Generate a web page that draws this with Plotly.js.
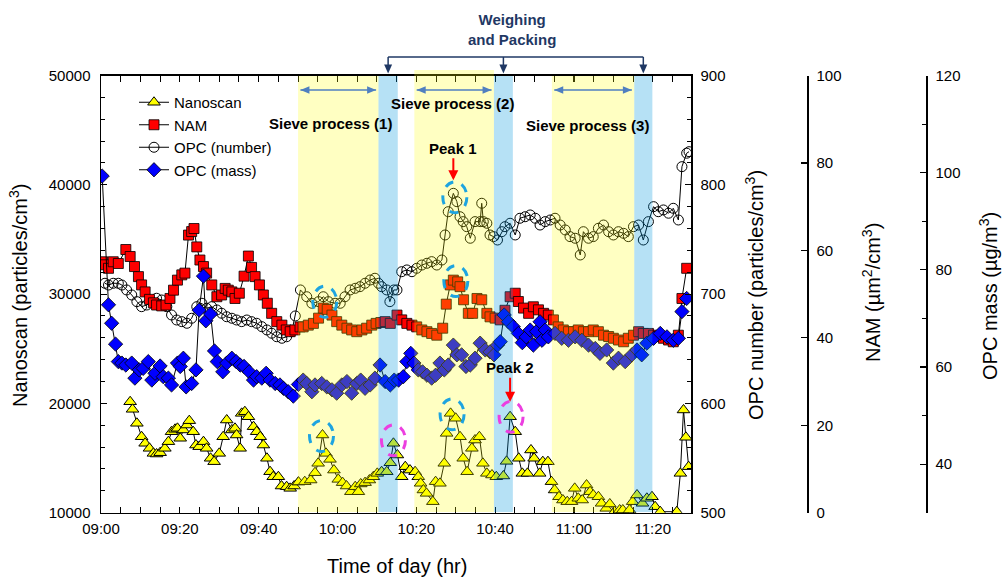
<!DOCTYPE html>
<html>
<head>
<meta charset="utf-8">
<script src="https://cdn.plot.ly/plotly-3.0.1.min.js"></script>
<style>
html,body{margin:0;padding:0;background:#fff;}
#chart{width:1007px;height:579px;}
</style>
</head>
<body>
<div id="chart"></div>
<script>
// ---------- DATA (time = minutes after 09:00) ----------
const nanoT = [7.4,8.0,9.1,10.3,11.2,12.3,13.3,14.1,15.0,16.2,17.1,17.9,18.8,19.4,20.1,20.9,21.8,22.4,23.4,24.1,24.9,26.0,26.8,27.8,28.7,30.0,31.0,31.9,33.2,34.0,34.4,35.3,35.7,36.5,37.4,38.7,39.5,40.4,41.2,42.1,42.9,43.7,45.0,45.8,47.1,48.0,49.0,50.1,51.7,53.2,54.3,55.1,56.2,57.1,58.1,59.1,60.2,61.3,62.3,63.4,64.5,65.3,65.9,67.0,68.1,69.1,70.1,71.2,72.5,73.4,74.2,75.2,76.3,77.2,78.4,79.7,80.5,81.1,81.8,82.6,84.2,84.9,86.0,87.1,87.7,88.7,90.0,91.1,91.9,92.9,94.1,94.9,96.0,96.9,97.9,99.2,100.3,102.1,102.9,103.8,105.1,106.0,106.9,108.2,109.1,109.9,111.3,112.1,113.4,114.3,115.1,116.2,117.2,118.3,119.4,120.2,121.1,122.1,123.2,124.1,124.9,126.2,127.0,128.2,129.1,130.3,131.6,132.4,134.1,134.9,136.0,137.4,138.5,139.8,140.6,141.9,146.1,147.0,147.8,148.4,149.1];
const nanoV = [20150,19460,18180,16950,16350,15890,15430,15370,15490,15890,16500,17410,17630,17720,16810,17570,18020,18420,17410,16190,16040,16500,15890,14980,14670,15430,16950,18480,17570,17720,17110,15890,19090,19240,18780,17870,17410,16950,16190,14980,13750,13290,13290,12440,12380,12230,12440,12800,12840,12990,13660,14520,17110,15430,14880,13900,13050,12750,12440,11920,12380,11920,12630,12750,12990,13290,13600,13750,13750,14570,16350,15280,13290,14210,13900,13750,13290,12690,12080,11770,11010,12840,12690,14520,17260,19090,18640,16950,14980,13750,15890,16650,16950,14520,13600,13450,13290,13360,14700,18780,17410,14980,13600,13600,15740,14980,13600,14670,14670,12840,12080,11460,11160,11010,11010,12230,11320,11160,12530,11920,11620,11460,10860,10400,10800,10090,10250,10250,10250,11010,11620,10860,11320,11460,10550,10090,10090,13600,19400,16900,14210];

const namT = [0.4,1.0,1.9,3.1,4.4,6.3,7.4,8.5,9.5,10.3,11.2,12.3,13.3,14.1,15.4,16.5,17.5,18.4,19.4,20.5,21.3,22.2,23.0,23.6,24.3,25.1,26.0,26.8,28.1,29.4,30.6,31.5,32.3,33.2,34.0,35.1,36.3,37.4,38.2,39.1,40.2,41.2,42.2,43.3,44.6,45.9,47.0,48.0,49.2,50.5,51.3,52.6,53.9,55.2,56.4,57.4,58.6,59.8,61.1,62.4,63.6,64.9,66.2,67.4,68.7,69.8,71.0,72.1,73.4,75.1,76.3,77.6,78.9,80.1,81.4,82.7,83.9,85.2,86.7,87.6,88.6,89.4,90.5,91.1,92.0,93.2,94.3,95.4,96.6,97.9,98.7,100.0,101.3,102.5,103.8,105.1,105.9,107.2,108.5,109.7,111.0,112.3,113.5,114.8,116.0,117.3,118.6,119.9,121.1,122.4,123.7,124.9,126.2,127.5,128.8,130.0,131.3,132.6,133.8,135.1,136.4,137.6,138.9,140.2,141.4,142.7,144.0,145.2,146.5,147.4,148.6];
const namV = [57.4,56.7,55.9,57.4,57.0,60.2,58.6,56.3,54.0,52.1,50.5,48.8,48.0,47.5,47.3,47.5,49.0,50.9,53.2,54.4,54.8,63.5,64.3,65.0,60.8,57.8,56.3,54.8,52.1,49.4,49.8,51.3,50.9,50.5,49.0,50.2,54.1,58.7,56.1,54.0,52.1,49.8,47.9,45.6,43.7,42.9,41.8,41.4,41.8,42.5,42.5,42.9,43.3,44.5,46.8,46.5,45.2,43.7,42.9,42.2,41.8,41.4,41.8,42.2,42.9,43.3,43.5,43.7,43.3,45.2,44.1,43.3,42.9,42.5,41.8,41.4,41.0,40.6,42.2,47.7,52.1,53.2,52.8,51.7,48.7,45.6,45.6,49.0,48.7,45.6,44.8,44.5,44.1,46.3,49.4,50.2,48.3,46.8,45.6,47.1,46.4,45.6,45.2,44.1,42.5,41.8,41.4,41.4,41.8,41.4,41.4,41.8,41.4,40.6,40.3,39.9,39.5,39.1,39.9,40.6,41.4,41.0,41.0,40.6,40.3,39.9,39.5,39.1,40.6,49.0,55.9];

const opcNumT = [1.0,1.9,3.1,4.4,5.3,6.5,7.8,9.1,10.3,11.6,12.9,14.1,15.4,16.7,17.9,19.2,20.5,21.8,23.0,24.3,25.6,26.8,28.1,29.4,30.6,31.9,33.2,34.4,35.7,37.0,38.2,39.5,40.8,42.1,43.3,44.6,45.9,47.1,48.4,49.3,50.6,52.2,53.5,55.2,56.4,57.7,59.4,60.7,61.9,63.2,64.5,65.7,67.0,68.3,69.5,70.4,71.2,72.5,73.3,74.3,75.1,76.3,77.6,78.9,80.1,81.4,82.7,83.9,85.2,86.5,87.3,88.1,89.4,90.3,91.1,91.9,92.8,93.7,94.9,96.2,96.6,97.0,97.9,98.7,99.6,100.6,101.7,102.5,103.8,105.1,106.3,107.6,108.9,110.2,111.4,112.7,114.0,115.2,116.5,117.8,119.0,120.3,121.6,122.4,123.7,124.9,126.2,127.5,128.8,130.0,131.3,132.6,133.8,135.1,136.4,137.6,138.9,140.2,141.4,142.7,144.0,145.2,146.5,147.4,148.6,149.2];
const opcNumV = [709.9,708.3,709.9,709.9,708.3,703.8,699.2,693.1,688.5,690.0,693.1,696.2,694.6,688.5,680.9,676.3,674.8,673.3,677.9,688.5,691.6,687.0,688.5,685.5,682.5,679.3,677.9,676.3,674.8,676.3,674.8,673.3,670.2,667.2,664.2,661.0,659.6,661.0,665.6,680.0,703.8,697.6,691.6,693.1,697.6,693.1,691.6,691.6,697.6,703.8,705.3,706.8,709.9,712.9,714.5,709.9,706.8,703.8,693.1,703.8,703.8,720.5,722.1,720.5,723.6,726.6,728.2,729.7,726.6,731.2,754.1,775.4,792.2,784.6,770.8,766.3,761.7,751.1,766.3,766.3,783.1,766.3,764.8,754.1,752.6,749.5,757.1,761.7,764.8,754.1,769.4,770.8,772.4,769.4,763.2,766.3,767.8,769.4,763.2,758.7,752.6,751.1,735.8,757.1,751.1,752.6,760.2,763.2,757.1,754.1,757.1,755.6,752.6,761.7,763.2,749.5,766.3,780.0,775.4,777.0,774.0,778.5,767.8,816.6,828.9,830.3];

const opcMassT = [0.3,1.9,2.7,3.7,4.4,5.3,6.3,7.8,8.6,9.7,10.7,12.0,12.9,13.7,15.0,15.8,17.1,17.9,19.4,20.1,20.9,21.6,23.0,24.1,24.9,26.0,26.6,27.8,28.8,29.5,30.9,31.9,33.2,34.3,35.3,36.3,37.6,38.7,39.5,40.8,41.9,42.9,44.2,45.4,46.3,47.5,48.8,50.1,51.3,52.2,53.5,54.3,56.0,57.3,58.6,59.8,61.1,62.4,63.6,64.9,65.9,67.0,68.3,69.5,70.8,72.1,73.4,74.4,75.5,76.7,77.6,78.6,79.4,80.5,81.6,82.7,83.9,84.9,86.0,87.1,88.1,89.4,90.3,91.5,92.6,93.7,94.9,96.2,97.5,98.7,99.7,100.6,101.3,102.3,103.4,104.6,105.9,106.9,107.9,108.9,109.7,110.5,111.4,111.9,112.7,113.5,115.2,116.9,118.6,120.3,122.0,123.7,125.4,126.6,128.3,130.0,131.3,133.0,134.7,136.0,137.2,138.5,140.2,141.9,143.6,145.2,146.5,147.4,148.6];
const opcMassV = [99.3,72.8,69.0,64.7,61.1,60.8,60.4,60.8,57.7,59.4,59.7,61.1,57.3,58.7,60.2,58.0,57.7,56.3,60.8,60.1,61.8,55.9,56.6,59.4,71.7,78.7,69.5,70.9,63.3,61.1,59.0,60.8,61.8,61.1,60.4,60.1,59.0,57.3,58.0,57.7,58.7,57.3,56.6,56.3,55.6,54.9,54.0,56.4,57.3,56.6,54.9,56.3,56.6,55.9,55.3,54.6,56.3,57.0,54.6,56.6,57.3,55.6,56.3,57.7,60.4,57.0,56.3,57.3,57.3,58.0,61.1,62.8,60.8,59.4,59.0,58.3,57.7,58.3,60.8,59.4,60.4,64.5,62.5,62.5,60.1,60.4,61.8,64.9,63.5,63.1,62.5,64.5,65.2,70.7,69.3,68.3,66.9,65.0,66.2,67.6,64.5,67.3,69.3,65.5,67.6,66.2,66.9,65.9,65.5,66.2,65.5,64.5,63.8,62.8,63.5,60.8,61.8,61.1,62.5,63.5,62.5,64.9,65.9,66.9,66.2,65.5,65.9,71.4,74.1];

// process phases (minutes after 09:00)
const phaseLabels = ['Sieve process (1)', 'Sieve process (2)', 'Sieve process (3)'];
const sieveStart = [50.0, 79.5, 114.4];
const sieveEnd   = [70.4, 99.7, 135.3];
const packEnd    = [75.3, 104.5, 139.9];

// ---------- helpers ----------
const W = 1007, H = 579;
const FONT = 'Liberation Sans, Arial, Helvetica, sans-serif';
const fx = p => p / W, fy = p => 1 - p / H;
const T0 = Date.UTC(2020, 0, 1, 9, 0, 0);
const tm = m => new Date(T0 + Math.round(m * 60000)).toISOString().slice(0, 19).replace('T', ' ');

const lineStyle = {color: '#000', width: 1};
const traces = [
  {name: 'Nanoscan', x: nanoT.map(tm), y: nanoV, xaxis: 'x', yaxis: 'y', mode: 'lines+markers', legendrank: 1,
   line: lineStyle, marker: {symbol: 'triangle-up', size: 11, color: '#FFFF00', line: {color: '#000', width: 1}}},
  {name: 'OPC (number)', x: opcNumT.map(tm), y: opcNumV, xaxis: 'x', yaxis: 'y2', mode: 'lines+markers', legendrank: 3,
   line: lineStyle, marker: {symbol: 'circle-open', size: 10, color: '#000', line: {width: 1}}},
  {name: 'NAM', x: namT.map(tm), y: namV, xaxis: 'x', yaxis: 'y3', mode: 'lines+markers', legendrank: 2,
   line: lineStyle, marker: {symbol: 'square', size: 10, color: '#FF0000', line: {color: '#000', width: 0.8}}},
  {name: 'OPC (mass)', x: opcMassT.map(tm), y: opcMassV, xaxis: 'x', yaxis: 'y4', mode: 'lines+markers', legendrank: 4,
   line: lineStyle, marker: {symbol: 'diamond', size: 11, color: '#0000FF', line: {color: '#000', width: 0.8}}}
];

const yDom = [fy(512.7), fy(75.5)];
const axBase = {showline: true, linecolor: '#000', linewidth: 1.5, showgrid: false, zeroline: false,
  ticks: 'inside', ticklen: 6, tickwidth: 1.2, tickcolor: '#000', tickfont: {size: 15, color: '#000'}, fixedrange: true};
const minorBase = {ticks: 'inside', ticklen: 4, tickwidth: 1, tickcolor: '#000'};

const shapes = [];
const annotations = [];
const NAVY = '#1F3864', STEEL = '#4F7FC0';
const head = (xref, xa, ya, path, color) => ({type: 'path', xref: xref, yref: 'paper', xsizemode: 'pixel', ysizemode: 'pixel',
  xanchor: xa, yanchor: ya, path: path, fillcolor: color, line: {width: 0}, layer: 'above'});

for (let i = 0; i < 3; i++) {
  // translucent tints drawn over the data (tinting the marks inside, as in the original)
  shapes.push({type: 'rect', xref: 'x', yref: 'paper', x0: tm(sieveStart[i]), x1: tm(sieveEnd[i]),
    y0: fy(512), y1: fy(i === 1 ? 70 : 76), fillcolor: '#FFFF00', opacity: 0.24, line: {width: 0}, layer: 'above'});
  shapes.push({type: 'rect', xref: 'x', yref: 'paper', x0: tm(sieveEnd[i]), x1: tm(packEnd[i]),
    y0: fy(512), y1: fy(76), fillcolor: 'rgb(0,150,220)', opacity: 0.286, line: {width: 0}, layer: 'above'});
}
for (let i = 0; i < 3; i++) {
  // double-headed arrow over each sieving period
  const a = tm(sieveStart[i] + 0.6), b = tm(sieveEnd[i] - 0.6);
  shapes.push({type: 'line', xref: 'x', yref: 'paper', x0: a, x1: b, y0: fy(90), y1: fy(90),
    line: {color: STEEL, width: 1.5}, layer: 'above'});
  shapes.push(head('x', a, fy(90), 'M0,0L9,3.8L9,-3.8Z', STEEL));
  shapes.push(head('x', b, fy(90), 'M0,0L-9,3.8L-9,-3.8Z', STEEL));
  // weighing & packing arrows
  const c = tm((sieveEnd[i] + packEnd[i]) / 2);
  shapes.push({type: 'line', xref: 'x', yref: 'paper', x0: c, x1: c, y0: fy(57), y1: fy(66),
    line: {color: NAVY, width: 1.5}, layer: 'above'});
  shapes.push(head('x', c, fy(73.5), 'M0,0L-4,9L4,9Z', NAVY));
}
shapes.push({type: 'line', xref: 'x', yref: 'paper', x0: tm((sieveEnd[0] + packEnd[0]) / 2), x1: tm((sieveEnd[2] + packEnd[2]) / 2),
  y0: fy(57), y1: fy(57), line: {color: NAVY, width: 1.5}, layer: 'above'});

// highlight ellipses anchored to data points
const cyan = '#1EA4E0', magenta = '#EC3FE0';
const rings = [
  {yref: 'y2', t: 56.4, v: 697.6, dx: 1.5, dy: -5, color: cyan},
  {yref: 'y2', t: 89.4, v: 792.2, dx: 1.5, dy: -4, color: cyan},
  {yref: 'y3', t: 89.4, v: 53.2, dx: 2.5, dy: -1, color: cyan},
  {yref: 'y', t: 56.2, v: 17110, dx: -1, dy: -1, color: cyan},
  {yref: 'y', t: 88.7, v: 19090, dx: 1.5, dy: -1, color: cyan},
  {yref: 'y', t: 74.2, v: 16350, dx: 0, dy: 3, color: magenta},
  {yref: 'y', t: 103.8, v: 18780, dx: 1, dy: 0, color: magenta}
];
rings.forEach(r => shapes.push({type: 'circle', xref: 'x', yref: r.yref, xsizemode: 'pixel', ysizemode: 'pixel',
  xanchor: tm(r.t), yanchor: r.v, x0: r.dx - 12, x1: r.dx + 12, y0: r.dy - 15.5, y1: r.dy + 15.5,
  line: {color: r.color, width: 3, dash: 'dash'}, layer: 'above'}));

const boldFont = {family: FONT, size: 15, color: '#000'};
const txt = (x, y, text, extra) => Object.assign({xref: 'paper', yref: 'paper', x: fx(x), y: fy(y), text: text,
  showarrow: false, xanchor: 'center', yanchor: 'middle', font: boldFont}, extra || {});
annotations.push(txt(330, 124, '<b>' + phaseLabels[0] + '</b>'));
annotations.push(txt(452, 103, '<b>' + phaseLabels[1] + '</b>'));
annotations.push(txt(587, 125, '<b>' + phaseLabels[2] + '</b>'));
annotations.push(txt(512, 30, '<b>Weighing<br>and Packing</b>', {font: {family: FONT, size: 15, color: NAVY}}));
// peaks
annotations.push({xref: 'x', yref: 'y2', x: tm(89.4), y: 792.2, text: '<b>Peak 1</b>', font: boldFont, showarrow: true,
  ax: 0, ay: -45, arrowhead: 2, arrowsize: 1, arrowwidth: 2, arrowcolor: '#FF0000', standoff: 13});
annotations.push({xref: 'x', yref: 'y', x: tm(103.8), y: 18780, text: '<b>Peak 2</b>', font: boldFont, showarrow: true,
  ax: 0, ay: -49, arrowhead: 2, arrowsize: 1, arrowwidth: 2, arrowcolor: '#FF0000', standoff: 15});
// axis titles
const titleFont = {family: FONT, size: 20, color: '#000'};
annotations.push(txt(18, 296, 'Nanoscan (particles/cm<sup>3</sup>)', {textangle: -90, font: titleFont}));
annotations.push(txt(397, 566, 'Time of day (hr)', {font: titleFont}));
annotations.push(txt(754, 295, 'OPC number (particles/cm<sup>3</sup>)', {textangle: -90, font: titleFont}));
annotations.push(txt(872, 293, 'NAM (µm<sup>2</sup>/cm<sup>3</sup>)', {textangle: -90, font: titleFont}));
annotations.push(txt(988, 296, 'OPC mass (µg/m<sup>3</sup>)', {textangle: -90, font: titleFont}));

const layout = {
  width: W, height: H, margin: {l: 0, r: 0, t: 0, b: 0}, paper_bgcolor: '#fff', plot_bgcolor: 'rgba(0,0,0,0)',
  font: {family: FONT, size: 15, color: '#000'},
  showlegend: true,
  legend: {x: fx(134), y: fy(86), xanchor: 'left', yanchor: 'top', bgcolor: 'rgba(0,0,0,0)', borderwidth: 0,
    font: {family: FONT, size: 15, color: '#000'}, itemwidth: 30},
  xaxis: Object.assign({}, axBase, {domain: [fx(101), fx(691)], anchor: 'y', type: 'date',
    range: [tm(0), tm(149.7)], tick0: tm(0), dtick: 20 * 60000, tickformat: '%H:%M', mirror: 'allticks',
    ticklabelstandoff: 2, minor: Object.assign({dtick: 5 * 60000, tick0: tm(0)}, minorBase)}),
  yaxis: Object.assign({}, axBase, {domain: yDom, anchor: 'x', range: [10000, 50000], tick0: 10000, dtick: 10000,
    tickformat: 'd', ticklabelstandoff: 6, minor: Object.assign({dtick: 2000, tick0: 10000}, minorBase)}),
  yaxis2: Object.assign({}, axBase, {domain: yDom, overlaying: 'y', side: 'right', anchor: 'x', range: [500, 900],
    tick0: 500, dtick: 100, ticklabelstandoff: 5, minor: Object.assign({dtick: 20, tick0: 500}, minorBase)}),
  yaxis3: Object.assign({}, axBase, {domain: yDom, overlaying: 'y', side: 'right', anchor: 'free', position: fx(807),
    range: [0, 100], tick0: 0, dtick: 20, ticklabelstandoff: 5}),
  yaxis4: Object.assign({}, axBase, {domain: yDom, overlaying: 'y', side: 'right', anchor: 'free', position: fx(926),
    range: [30, 120], tick0: 40, dtick: 20, ticklabelstandoff: 5, minor: Object.assign({dtick: 10, tick0: 30}, minorBase)}),
  shapes: shapes,
  annotations: annotations
};

Plotly.newPlot('chart', traces, layout, {displayModeBar: false, staticPlot: true});
</script>
</body>
</html>
